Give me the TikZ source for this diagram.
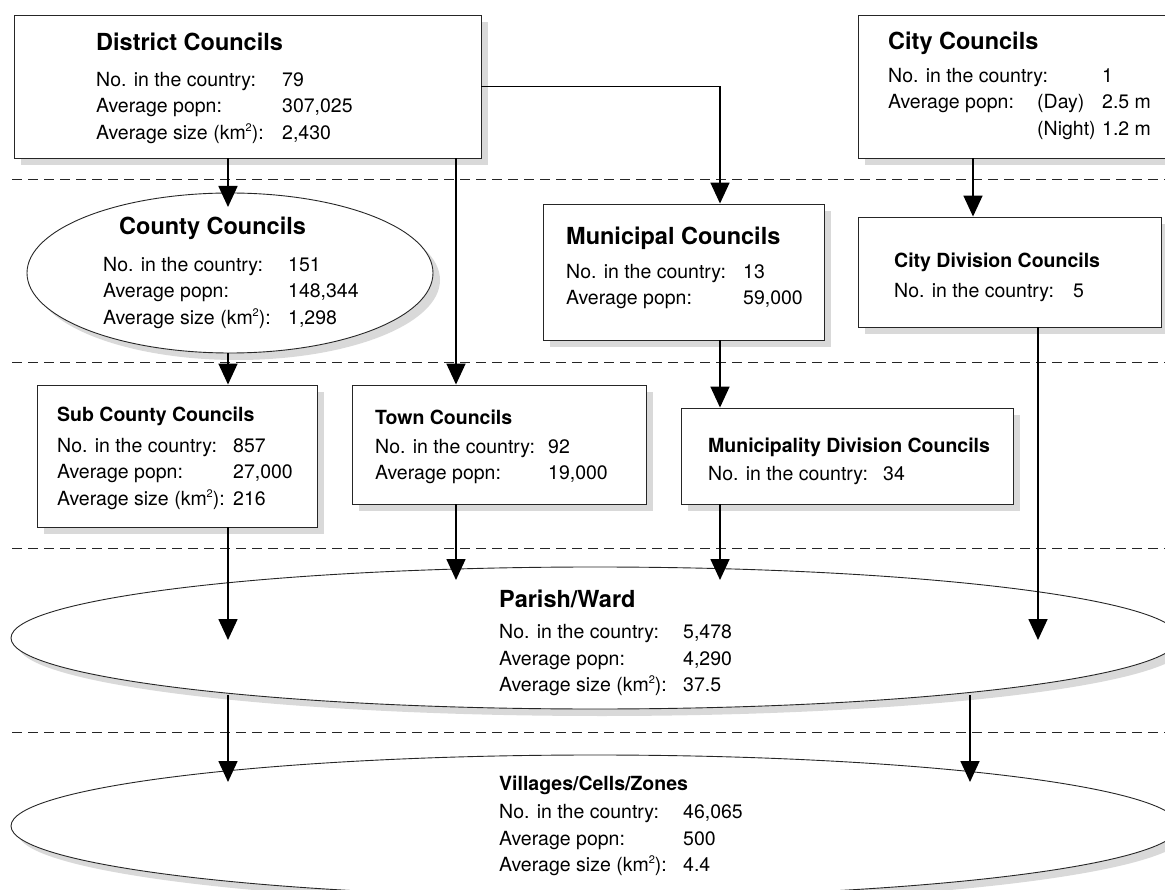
\documentclass[tikz,border=0pt]{standalone}
\usepackage{fontspec}
\setmainfont{TeX Gyre Heros}
\usetikzlibrary{arrows.meta,shapes.geometric,shadows}

\newcommand{\infofont}{\fontsize{19.5}{26.5}\selectfont}
\newcommand{\bigtitle}{\fontsize{23.5}{27}\selectfont\bfseries}
\newcommand{\smalltitle}{\fontsize{19.5}{26}\selectfont\bfseries}
\newcommand{\sq}{\raisebox{0.42em}{\fontsize{11}{11}\selectfont 2}}

\begin{document}
\begin{tikzpicture}[x=1pt, y=-1pt,
	unit/.style={draw=black!85, line width=0.9pt, fill=white, inner sep=0pt,
		drop shadow={shadow xshift=7pt, shadow yshift=-7pt, fill=black!15, opacity=1}},
	box/.style={unit, rectangle},
	oval/.style={unit, ellipse},
	info/.style={anchor=base west, inner sep=0pt, font=\infofont},
	conn/.style={line width=1.7pt, -{Triangle[length=21pt, width=19pt]}},
	level/.style={black!85, line width=1pt, dash pattern=on 10pt off 6pt}]
				\clip (0,0) rectangle (1165,890);
				% level separators
				\foreach \y in {180,363,548,732}
					\draw[level] (12,\y) -- (1165,\y);

				% councils
				\node[box, minimum width=467pt, minimum height=143pt] (dc)at(247.5, 86.5) {};
				\node[box, minimum width=322pt, minimum height=143pt] (cy)at(1019, 86.5) {};
				\node[oval, minimum width=406pt, minimum height=160pt] (cc)at(230, 273) {};
				\node[box, minimum width=281pt, minimum height=136pt] (mc)at(683.5, 272) {};
				\node[box, minimum width=303pt, minimum height=110pt] (cd)at(1009.5, 272) {};
				\node[box, minimum width=280pt, minimum height=142pt] (sc)at(177, 456) {};
				\node[box, minimum width=294pt, minimum height=119pt] (tc)at(499, 444.5) {};
				\node[box, minimum width=332pt, minimum height=96pt] (md)at(847, 456) {};
				\node[oval, minimum width=1168pt, minimum height=142pt] (pw)at(595, 638) {};
				\node[oval, minimum width=1168pt, minimum height=142pt] (vz)at(595, 826) {};

				% texts
				\node[info] (dctxt)at(96, 51) {\begin{tabular}[t]{@{}p{186pt}@{}l@{}}
					\multicolumn{2}{@{}l@{}}{\bigtitle District Councils}\\[9pt]
					No. in the country: & 79\\
					Average popn: & 307,025\\
					Average size (km\sq): & 2,430
				\end{tabular}};
				\node[info] (cytxt)at(888, 50) {\begin{tabular}[t]{@{}p{149pt}@{}p{65pt}@{}l@{}}
					\multicolumn{3}{@{}l@{}}{\bigtitle City Councils}\\[6pt]
					\multicolumn{2}{@{}p{214pt}@{}}{No. in the country:} & 1\\
					Average popn: & (Day) & 2.5 m\\
					& (Night) & 1.2 m
				\end{tabular}};
				\node[info] (cctxt)at(103, 235) {\begin{tabular}[t]{@{}p{185pt}@{}l@{}}
					\multicolumn{2}{@{}l@{}}{\hspace*{16pt}\bigtitle County Councils}\\[10pt]
					No. in the country: & 151\\
					Average popn: & 148,344\\
					Average size (km\sq): & 1,298
				\end{tabular}};
				\node[info] (mctxt)at(566, 245) {\begin{tabular}[t]{@{}p{177pt}@{}l@{}}
					\multicolumn{2}{@{}l@{}}{\bigtitle Municipal Councils}\\[7pt]
					No. in the country: & 13\\
					Average popn: & 59,000
				\end{tabular}};
				\node[info] (cdtxt)at(894, 268) {\begin{tabular}[t]{@{}p{179pt}@{}l@{}}
					\multicolumn{2}{@{}l@{}}{\smalltitle City Division Councils}\\[3pt]
					No. in the country: & 5
				\end{tabular}};
				\node[info] (sctxt)at(57, 422) {\begin{tabular}[t]{@{}p{176pt}@{}l@{}}
					\multicolumn{2}{@{}l@{}}{\smalltitle Sub County Councils}\\[4pt]
					No. in the country: & 857\\
					Average popn: & 27,000\\
					Average size (km\sq): & 216
				\end{tabular}};
				\node[info] (tctxt)at(375, 425) {\begin{tabular}[t]{@{}p{173pt}@{}l@{}}
					\multicolumn{2}{@{}l@{}}{\smalltitle Town Councils}\\[2pt]
					No. in the country: & 92\\
					Average popn: & 19,000
				\end{tabular}};
				\node[info] (mdtxt)at(708, 453) {\begin{tabular}[t]{@{}p{175pt}@{}l@{}}
					\multicolumn{2}{@{}l@{}}{\smalltitle Municipality Division Councils}\\[1pt]
					No. in the country: & 34
				\end{tabular}};
				\node[info] (pwtxt)at(499, 607) {\begin{tabular}[t]{@{}p{184pt}@{}l@{}}
					\multicolumn{2}{@{}l@{}}{\bigtitle Parish/Ward}\\[5pt]
					No. in the country: & 5,478\\
					Average popn: & 4,290\\
					Average size (km\sq): & 37.5
				\end{tabular}};
				\node[info] (vztxt)at(499, 790) {\begin{tabular}[t]{@{}p{184pt}@{}l@{}}
					\multicolumn{2}{@{}l@{}}{\smalltitle Villages/Cells/Zones}\\[2pt]
					No. in the country: & 46,065\\
					Average popn: & 500\\
					Average size (km\sq): & 4.4
				\end{tabular}};

				% columns and arrow ends
				\coordinate (xa)at(228, 0);
				\coordinate (xb)at(456, 0);
				\coordinate (xc)at(720, 0);
				\coordinate (xd)at(973, 0);
				\coordinate (xe)at(1038, 0);
				\coordinate (xf)at(970, 0);
				\coordinate (ccin)at(228, 207);
				\coordinate (pwin)at(0, 640);
				\coordinate (pwtop)at(0, 580);
				\coordinate (pwbot)at(0, 695);
				\coordinate (vzin)at(0, 782);

				\draw[conn] (dc.south -| xa) -- (ccin);
				\draw[conn] (dc.south -| xb) -- (tc.north -| xb);
				\draw[conn] (dc.east) -| (mc.north -| xc);
				\draw[conn] (cy.south -| xd) -- (cd.north -| xd);
				\draw[conn] (cc.south -| xa) -- (sc.north -| xa);
				\draw[conn] (mc.south -| xc) -- (md.north -| xc);
				\draw[conn] (cd.south -| xe) -- (pwin -| xe);
				\draw[conn] (sc.south -| xa) -- (pwin -| xa);
				\draw[conn] (tc.south -| xb) -- (pwtop -| xb);
				\draw[conn] (md.south -| xc) -- (pwtop -| xc);
				\draw[conn] (pwbot -| xa) -- (vzin -| xa);
				\draw[conn] (pwbot -| xf) -- (vzin -| xf);
			\end{tikzpicture}
\end{document}
